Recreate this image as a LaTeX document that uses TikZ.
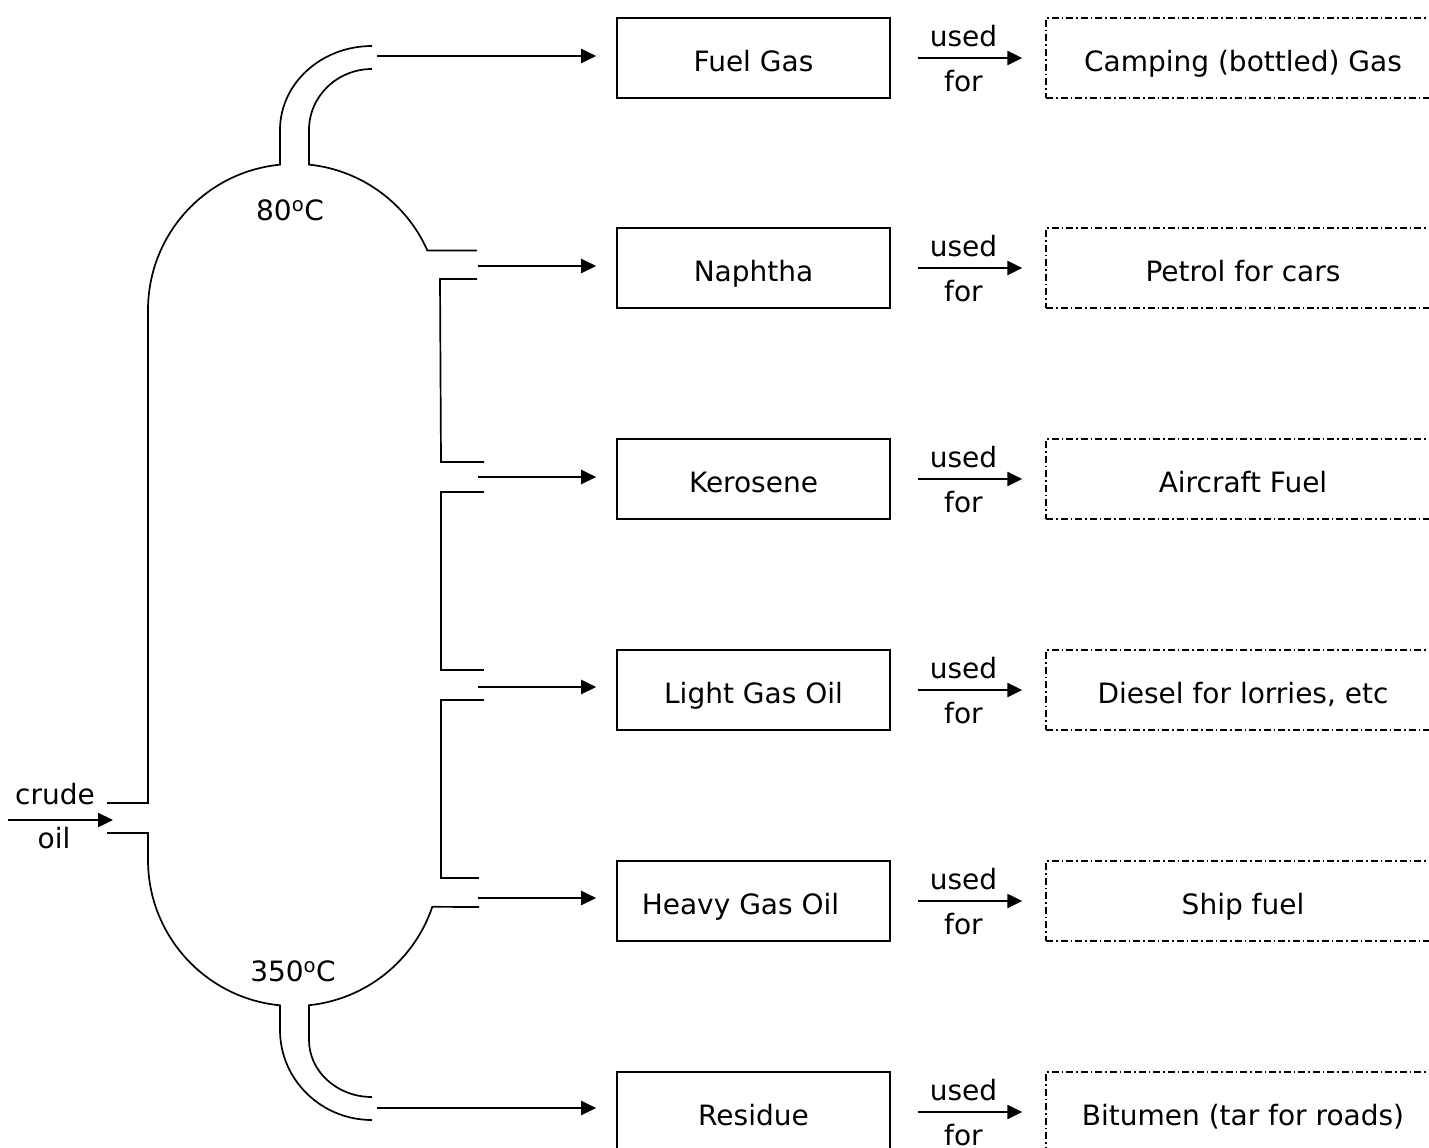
\documentclass[tikz,border=0pt]{standalone}
\usepackage{fontspec}
\setmainfont{DejaVu Sans}
\usetikzlibrary{arrows.meta}
\begin{document}
\begin{tikzpicture}[x=1pt,y=-1pt,
  every node/.style={font=\fontsize{28}{32}\selectfont},
  col/.style={line width=1.7pt},
  flow/.style={line width=2.4pt,-{Triangle[length=15pt,width=14pt]}},
  fbox/.style={draw,line width=1.6pt,minimum width=273pt,minimum height=80pt,inner sep=0pt,text height=26pt,text depth=0pt},
  ubox/.style={draw,line width=1.4pt,dash pattern=on 7pt off 3pt on 1.5pt off 3pt,minimum width=394pt,minimum height=80pt,inner sep=0pt,text height=26pt,text depth=0pt},
  lbl/.style={inner sep=0pt}]
\useasboundingbox (0,0) rectangle (1429,1148);
\clip (0,0) rectangle (1429,1148);

% column
\draw[col] (107,803) -- (148,803) -- (148,310)
  arc[start angle=180,end angle=264.5,radius=146] -- (280,130)
  arc[start angle=180,end angle=270,x radius=92,y radius=84];
\draw[col] (372,69) arc[start angle=270,end angle=180,x radius=63,y radius=61]
  -- (309,164.6) arc[start angle=275.9,end angle=336,radius=146] -- (477,250.6);
\draw[col] (477,279) -- (440,279) -- (441,462) -- (484,462);
\draw[col] (484,492) -- (441,492) -- (441,670) -- (484,670);
\draw[col] (484,700) -- (441,700) -- (441,878) -- (479,878);
\draw[col] (479,907) -- (432.3,906.8)
  arc[start angle=18.7,end angle=84.1,radius=146] -- (309,1040)
  arc[start angle=180,end angle=90,x radius=63,y radius=57];
\draw[col] (107,833) -- (148,833) -- (148,860)
  arc[start angle=180,end angle=95.5,radius=146] -- (280,1030)
  arc[start angle=180,end angle=90,x radius=92,y radius=90];

\node[lbl] (t80) at (290,210) {80\textsuperscript{o}C};
\node[lbl] (t350) at (293,971) {350\textsuperscript{o}C};

% crude oil
\coordinate (cin) at (8,820);
\coordinate (cend) at (113,820);
\draw[flow] (cin) -- (cend);
\node[lbl] (crude) at (55,794) {crude};
\node[lbl] (oil) at (54,838) {oil};

% fraction boxes
\node[fbox] (fuel) at (753.5,58) {Fuel Gas};
\node[fbox] (nap) at (753.5,268) {Naphtha};
\node[fbox] (ker) at (753.5,479) {Kerosene};
\node[fbox] (lgo) at (753.5,690) {Light Gas Oil};
\node[fbox] (hgo) at (753.5,901) {\hspace*{-26pt}Heavy Gas Oil};
\node[fbox] (res) at (753.5,1112) {Residue};

% use boxes
\node[ubox] (u1) at (1243,58) {Camping (bottled) Gas};
\node[ubox] (u2) at (1243,268) {Petrol for cars};
\node[ubox] (u3) at (1243,479) {Aircraft Fuel};
\node[ubox] (u4) at (1243,690) {Diesel for lorries, etc};
\node[ubox] (u5) at (1243,901) {Ship fuel};
\node[ubox] (u6) at (1243,1112) {Bitumen (tar for roads)};

% outlet arrows
\coordinate (o1) at (377,56);
\coordinate (o2) at (478,266);
\coordinate (o3) at (478,477);
\coordinate (o4) at (478,687);
\coordinate (o5) at (478,898);
\coordinate (o6) at (377,1108);
\foreach \o/\b in {o1/fuel,o2/nap,o3/ker,o4/lgo,o5/hgo,o6/res}
  \draw[flow,shorten >=20pt] (\o) -- (\o -| \b.west);

% used for arrows
\foreach \a/\b in {fuel/u1,nap/u2,ker/u3,lgo/u4,hgo/u5,res/u6}
  \draw[flow,shorten <=27pt,shorten >=23pt] (\a) -- (\b)
    node[pos=0.47,above,lbl,yshift=10pt] {used}
    node[pos=0.47,below,lbl,yshift=-11pt] {for};
\end{tikzpicture}
\end{document}
